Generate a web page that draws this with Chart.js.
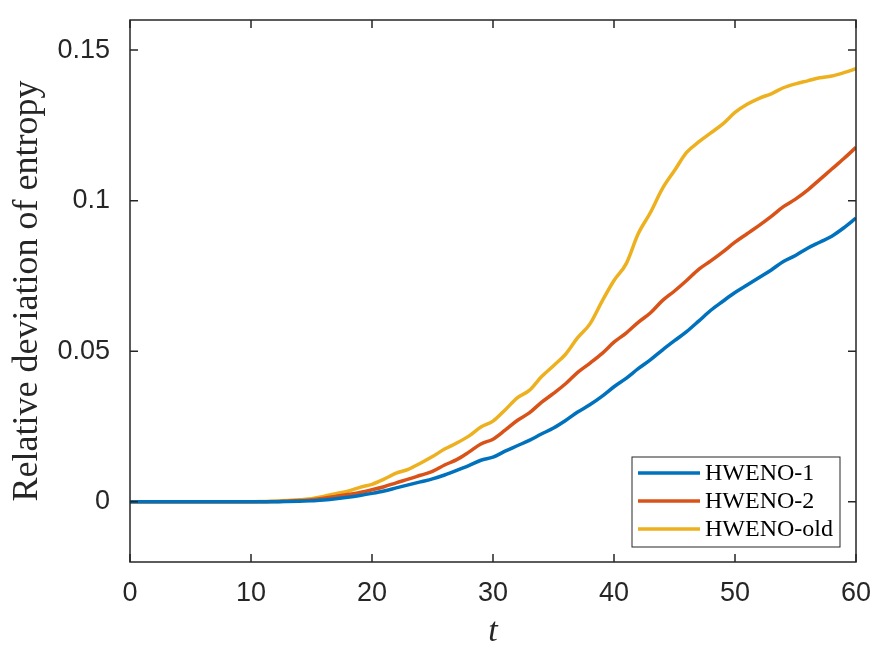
<!DOCTYPE html>
<html>
<head>
<meta charset="utf-8">
<script src="https://cdn.jsdelivr.net/npm/chart.js@4.4.1/dist/chart.umd.min.js"></script>
<style>
  html, body { margin: 0; padding: 0; background: #fff; }
  #wrap { width: 875px; height: 656px; }
</style>
</head>
<body>
<div id="wrap"><canvas id="entropyChart" width="875" height="656"></canvas></div>
<script>
// time samples t = 0..60
let tValues = [];
for (let i = 0; i <= 60; i++) tValues.push(i);

// values, one per t
let hweno1 = [
  0, 0, 0, 0, 0, 0, 0, 0, 0, 0,
  0, 0, 0, 0.0001, 0.0002, 0.0003, 0.0006, 0.0010, 0.0015, 0.0021,
  0.0028, 0.0036, 0.0046, 0.0056, 0.0066, 0.0076, 0.0089, 0.0104, 0.0120, 0.0138,
  0.0148, 0.0168, 0.0186, 0.0204, 0.0225, 0.0245, 0.0270, 0.0298, 0.0322, 0.0350,
  0.0382, 0.0410, 0.0442, 0.0471, 0.0504, 0.0535, 0.0565, 0.0600, 0.0636, 0.0666,
  0.0695, 0.0720, 0.0745, 0.0770, 0.0798, 0.0818, 0.0842, 0.0862, 0.0882, 0.0910,
  0.0942
];
let hweno2 = [
  0, 0, 0, 0, 0, 0, 0, 0, 0, 0,
  0, 0, 0.0001, 0.0002, 0.0004, 0.0007, 0.0012, 0.0018, 0.0024, 0.0031,
  0.0040, 0.0050, 0.0063, 0.0075, 0.0088, 0.0101, 0.0122, 0.0140, 0.0165, 0.0192,
  0.0208, 0.0238, 0.0270, 0.0295, 0.0330, 0.0360, 0.0392, 0.0430, 0.0460, 0.0492,
  0.0530, 0.0560, 0.0596, 0.0627, 0.0668, 0.0700, 0.0735, 0.0772, 0.0800, 0.0830,
  0.0862, 0.0890, 0.0918, 0.0948, 0.0980, 0.1005, 0.1035, 0.1070, 0.1105, 0.1140,
  0.1177
];
let hwenoOld = [
  0, 0, 0, 0, 0, 0, 0, 0, 0, 0,
  0, 0.0001, 0.0002, 0.0004, 0.0007, 0.0010, 0.0018, 0.0027, 0.0035, 0.0048,
  0.0058, 0.0075, 0.0095, 0.0108, 0.0128, 0.0150, 0.0175, 0.0195, 0.0218, 0.0248,
  0.0268, 0.0305, 0.0345, 0.0370, 0.0415, 0.0452, 0.0490, 0.0545, 0.0590, 0.0665,
  0.0735, 0.0790, 0.0890, 0.0960, 0.1040, 0.1100, 0.1160, 0.1195, 0.1225, 0.1255,
  0.1293, 0.1320, 0.1340, 0.1355, 0.1375, 0.1388, 0.1398, 0.1408, 0.1414, 0.1425,
  0.1438
];

let seriesNames = ["HWENO-1", "HWENO-2", "HWENO-old"];
let seriesColors = ["#0072BD", "#D95319", "#EDB120"];
let xTicks = [0, 10, 20, 30, 40, 50, 60];
let yTicks = [0, 0.05, 0.1, 0.15];

const axisColor = "#262626";
const sansFont = "'Liberation Sans', Arial, sans-serif";
const serifFont = "'Liberation Serif', 'Times New Roman', serif";

function toPoints(values) {
    return values.map((v, i) => ({ x: tValues[i], y: v }));
}

// box around the axes with MATLAB-style inward ticks on all sides
const boxPlugin = {
    id: "boxPlugin",
    afterDraw(chart) {
        let ctx = chart.ctx;
        let area = chart.chartArea;
        let xs = chart.scales.x;
        let ys = chart.scales.y;
        let len = 8;
        ctx.save();
        ctx.strokeStyle = axisColor;
        ctx.lineWidth = 1.5;
        ctx.strokeRect(area.left, area.top, area.right - area.left, area.bottom - area.top);
        ctx.beginPath();
        xTicks.forEach(t => {
            let px = xs.getPixelForValue(t);
            ctx.moveTo(px, area.bottom); ctx.lineTo(px, area.bottom - len);
            ctx.moveTo(px, area.top); ctx.lineTo(px, area.top + len);
        });
        yTicks.forEach(t => {
            let py = ys.getPixelForValue(t);
            ctx.moveTo(area.left, py); ctx.lineTo(area.left + len, py);
            ctx.moveTo(area.right, py); ctx.lineTo(area.right - len, py);
        });
        ctx.stroke();

        // legend box in the lower right corner
        let bx = area.left + 502, by = area.top + 437, bw = 208, bh = 90;
        ctx.fillStyle = "#fff";
        ctx.fillRect(bx, by, bw, bh);
        ctx.lineWidth = 1;
        ctx.strokeRect(bx, by, bw, bh);
        ctx.font = "24px " + serifFont;
        ctx.textBaseline = "middle";
        ctx.textAlign = "left";
        chart.data.datasets.forEach((ds, i) => {
            let ly = by + 16 + i * 28;
            ctx.strokeStyle = ds.borderColor;
            ctx.lineWidth = 3.5;
            ctx.beginPath();
            ctx.moveTo(bx + 6, ly);
            ctx.lineTo(bx + 68, ly);
            ctx.stroke();
            ctx.fillStyle = "#000";
            ctx.fillText(ds.label, bx + 73, ly + 1);
        });
        ctx.restore();
    }
};

let datasets = [hweno1, hweno2, hwenoOld].map((vals, i) => ({
    label: seriesNames[i],
    data: toPoints(vals),
    borderColor: seriesColors[i],
    backgroundColor: seriesColors[i],
    borderWidth: 3.5,
    pointRadius: 0,
    cubicInterpolationMode: "monotone",
    fill: false
}));

let ctx = document.getElementById("entropyChart").getContext("2d");
window.myChart = new Chart(ctx, {
    type: "line",
    data: { datasets: datasets },
    options: {
        responsive: false,
        animation: false,
        layout: { padding: { left: 0, right: 19, top: 20, bottom: 0 } },
        plugins: {
            legend: { display: false },
            tooltip: { enabled: false }
        },
        scales: {
            x: {
                type: "linear",
                min: 0,
                max: 60,
                afterBuildTicks: scale => { scale.ticks = xTicks.map(v => ({ value: v })); },
                afterFit: scale => {
                    scale.height = 94;
                    scale.paddingLeft = 0;
                    scale.paddingRight = 0;
                },
                grid: { display: false },
                border: { display: false },
                ticks: {
                    color: axisColor,
                    font: { family: sansFont, size: 27 },
                    padding: 7,
                    maxRotation: 0,
                    callback: v => String(v)
                },
                title: {
                    display: true,
                    text: "t",
                    color: axisColor,
                    font: { family: serifFont, size: 34, style: "italic" },
                    padding: { top: 0, bottom: 4 }
                }
            },
            y: {
                type: "linear",
                min: -0.02,
                max: 0.16,
                afterBuildTicks: scale => { scale.ticks = yTicks.map(v => ({ value: v })); },
                afterFit: scale => {
                    scale.width = 130;
                    scale.paddingTop = 0;
                    scale.paddingBottom = 0;
                },
                grid: { display: false },
                border: { display: false },
                ticks: {
                    color: axisColor,
                    font: { family: sansFont, size: 27 },
                    padding: 12,
                    callback: v => String(+v.toFixed(2))
                },
                title: {
                    display: true,
                    text: "Relative deviation of entropy",
                    color: axisColor,
                    font: { family: serifFont, size: 36 },
                    padding: { top: 6, bottom: 0 }
                }
            }
        }
    },
    plugins: [boxPlugin]
});
</script>
</body>
</html>
